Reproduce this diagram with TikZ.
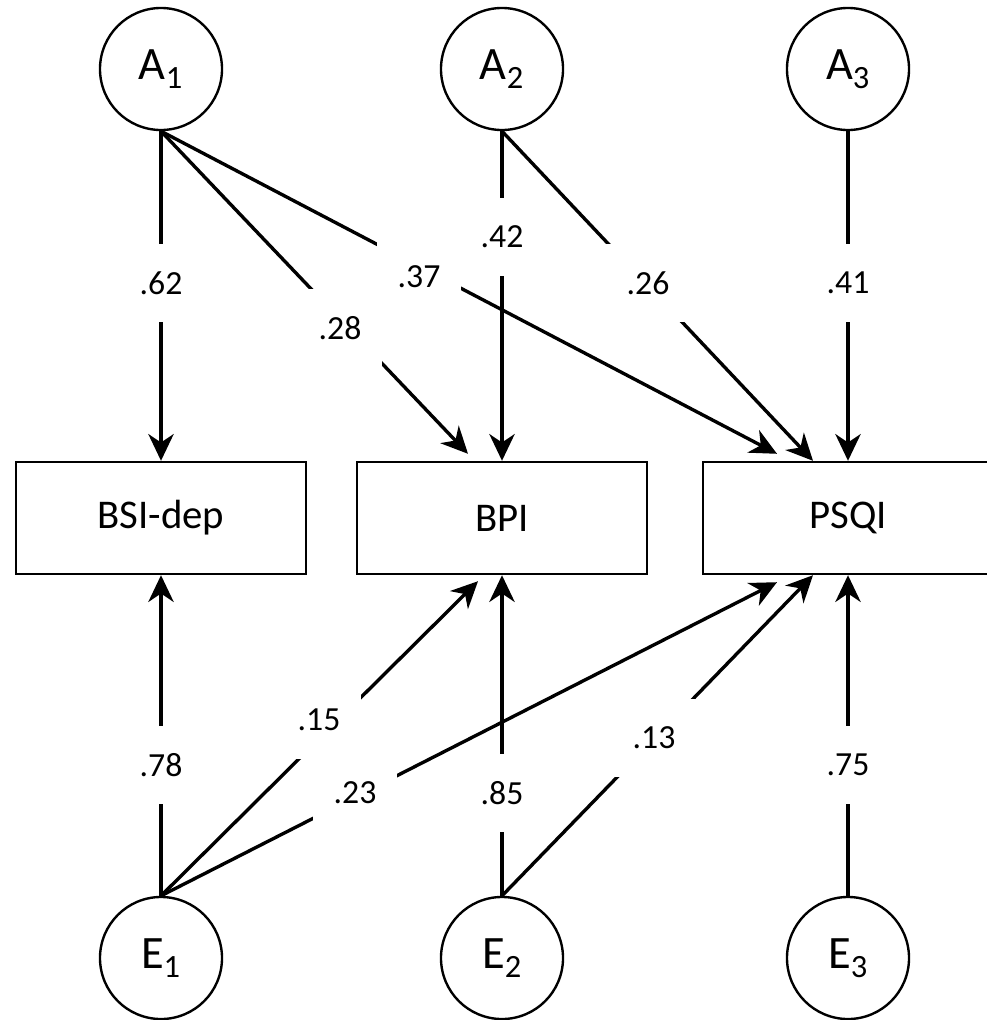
\documentclass[tikz,border=0pt]{standalone}
\usepackage{fontspec}
\setmainfont{Carlito}
\usetikzlibrary{arrows.meta,calc}

\begin{document}
\begin{tikzpicture}[x=0.025cm,y=-0.025cm,
    latent/.style={draw,circle,line width=1.7pt,minimum size=3.05cm,inner sep=0pt,font=\fontsize{33}{37}\selectfont},
    observed/.style={draw,rectangle,line width=1.7pt,minimum width=7.25cm,minimum height=2.8cm,font=\fontsize{29}{33}\selectfont},
    effect/.style={line width=2.4pt,-{Stealth[length=19pt,width=18pt,inset=6pt]}},
    coef/.style={fill=white,inner sep=0pt,minimum width=2.1cm,minimum height=1.95cm,font=\fontsize{24}{28}\selectfont}]
        \useasboundingbox (0,0) rectangle (987,1020);
        \node[latent] (a1) at (161,69) {A\textsubscript{1}};
        \node[latent] (a2) at (502,69) {A\textsubscript{2}};
        \node[latent] (a3) at (848,69) {A\textsubscript{3}};
        \node[observed] (bsi) at (161,518) {BSI-dep};
        \node[observed] (bpi) at (502,518) {BPI};
        \node[observed] (psqi) at (848,518) {PSQI};
        \node[latent] (e1) at (161,958) {E\textsubscript{1}};
        \node[latent] (e2) at (502,958) {E\textsubscript{2}};
        \node[latent] (e3) at (848,958) {E\textsubscript{3}};
        \draw[effect] (a1.south) -- (bsi.north);
        \draw[effect] (a1.south) -- ($(bpi.north)+(-34,-7)$);
        \draw[effect] (a1.south) -- ($(psqi.north)+(-71,-7)$);
        \draw[effect] (a2.south) -- (bpi.north);
        \draw[effect] (a2.south) -- ($(psqi.north)+(-35,0)$);
        \draw[effect] (a3.south) -- (psqi.north);
        \draw[effect] (e1.north) -- (bsi.south);
        \draw[effect] (e1.north) -- ($(bpi.south)+(-24,6)$);
        \draw[effect] (e1.north) -- ($(psqi.south)+(-71,7)$);
        \draw[effect] (e2.north) -- (bpi.south);
        \draw[effect] (e2.north) -- ($(psqi.south)+(-35,0)$);
        \draw[effect] (e3.north) -- (psqi.south);
        \node[coef] (c62) at (161,283) {.62};
        \node[coef] (c28) at (340,328) {.28};
        \node[coef] (c37) at (419,277) {.37};
        \node[coef] (c42) at (502,237) {.42};
        \node[coef] (c26) at (648,283) {.26};
        \node[coef] (c41) at (848,283) {.41};
        \node[coef] (c78) at (161,765) {.78};
        \node[coef] (c15) at (319,720) {.15};
        \node[coef] (c23) at (355,793) {.23};
        \node[coef] (c85) at (502,793) {.85};
        \node[coef] (c13) at (654,738) {.13};
        \node[coef] (c75) at (848,765) {.75};
    \end{tikzpicture}
\end{document}
